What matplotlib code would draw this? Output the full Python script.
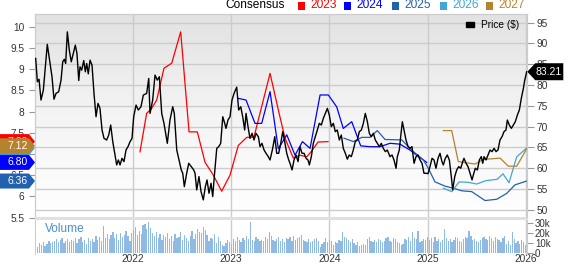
import numpy as np
import matplotlib.pyplot as plt
import matplotlib.transforms as mtransforms
from matplotlib.colors import LinearSegmentedColormap
from matplotlib.patches import Polygon, Rectangle, Patch
from matplotlib.text import Text

plt.rcParams['font.family'] = ['Liberation Sans', 'DejaVu Sans']

# weekly close price ($), x in decimal years
price_t = [2021.013, 2021.030, 2021.047, 2021.067, 2021.091, 2021.131, 2021.159, 2021.179, 2021.199, 2021.220,
           2021.247, 2021.271, 2021.288, 2021.304, 2021.318, 2021.335, 2021.355, 2021.375, 2021.396, 2021.416,
           2021.433, 2021.451, 2021.464, 2021.481, 2021.502, 2021.518, 2021.532, 2021.548, 2021.566, 2021.586,
           2021.606, 2021.627, 2021.647, 2021.667, 2021.688, 2021.708, 2021.735, 2021.756, 2021.776, 2021.797,
           2021.817, 2021.837, 2021.854, 2021.871, 2021.891, 2021.911, 2021.932, 2021.952, 2021.973, 2021.993,
           2022.010, 2022.034, 2022.057, 2022.084, 2022.108, 2022.142, 2022.163, 2022.176, 2022.203, 2022.227,
           2022.250, 2022.271, 2022.295, 2022.318, 2022.352, 2022.379, 2022.407, 2022.423, 2022.448, 2022.471,
           2022.494, 2022.509, 2022.525, 2022.549, 2022.570, 2022.596, 2022.621, 2022.634, 2022.651, 2022.674,
           2022.695, 2022.718, 2022.739, 2022.756, 2022.776, 2022.797, 2022.814, 2022.830, 2022.855, 2022.875,
           2022.895, 2022.916, 2022.936, 2022.949, 2022.969, 2022.990, 2023.010, 2023.031, 2023.058, 2023.078,
           2023.099, 2023.119, 2023.139, 2023.153, 2023.173, 2023.193, 2023.214, 2023.234, 2023.254, 2023.278,
           2023.295, 2023.315, 2023.336, 2023.356, 2023.379, 2023.397, 2023.424, 2023.445, 2023.465, 2023.485,
           2023.506, 2023.526, 2023.546, 2023.567, 2023.587, 2023.600, 2023.621, 2023.641, 2023.661, 2023.682,
           2023.702, 2023.722, 2023.743, 2023.763, 2023.783, 2023.797, 2023.817, 2023.837, 2023.858, 2023.878,
           2023.898, 2023.919, 2023.939, 2023.959, 2023.980, 2024.000, 2024.020, 2024.041, 2024.061, 2024.081,
           2024.102, 2024.122, 2024.142, 2024.163, 2024.183, 2024.203, 2024.224, 2024.244, 2024.264, 2024.285,
           2024.305, 2024.326, 2024.346, 2024.366, 2024.387, 2024.407, 2024.427, 2024.448, 2024.468, 2024.488,
           2024.509, 2024.529, 2024.549, 2024.570, 2024.590, 2024.617, 2024.638, 2024.658, 2024.679, 2024.692,
           2024.712, 2024.726, 2024.743, 2024.760, 2024.780, 2024.801, 2024.821, 2024.841, 2024.862, 2024.882,
           2024.902, 2024.923, 2024.943, 2024.963, 2024.984, 2025.004, 2025.024, 2025.045, 2025.065, 2025.085,
           2025.106, 2025.126, 2025.146, 2025.160, 2025.180, 2025.200, 2025.221, 2025.241, 2025.255, 2025.276,
           2025.296, 2025.316, 2025.337, 2025.357, 2025.370, 2025.391, 2025.411, 2025.431, 2025.452, 2025.465,
           2025.485, 2025.506, 2025.526, 2025.546, 2025.561, 2025.574, 2025.594, 2025.614, 2025.635, 2025.655,
           2025.676, 2025.696, 2025.716, 2025.736, 2025.757, 2025.777, 2025.797, 2025.811, 2025.831, 2025.852,
           2025.872, 2025.892, 2025.913, 2025.933, 2025.953, 2025.974, 2025.988, 2026.008]
price = [86.4, 80.8, 81.4, 76.4, 78.8, 89.8, 85.2, 82.0, 76.6, 78.0,
         78.4, 81.2, 85.6, 86.2, 85.2, 92.8, 88.4, 85.6, 87.6, 89.6,
         87.6, 81.1, 84.4, 83.6, 85.9, 83.2, 85.2, 82.7, 86.0, 84.8,
         78.0, 72.4, 75.6, 74.4, 69.2, 67.2, 66.8, 68.0, 70.4, 66.4,
         63.6, 60.8, 62.0, 60.8, 62.4, 61.6, 64.4, 65.2, 66.4, 67.2,
         72.4, 75.2, 74.0, 74.8, 77.6, 78.0, 81.6, 73.2, 76.4, 82.4,
         81.2, 82.0, 73.2, 70.8, 66.0, 71.6, 74.8, 73.2, 64.4, 62.0,
         59.6, 58.8, 55.6, 58.8, 61.2, 60.4, 59.6, 58.8, 54.8, 58.0,
         54.4, 52.4, 55.6, 57.2, 54.0, 56.4, 53.2, 58.0, 64.8, 65.2,
         66.0, 72.4, 70.8, 69.6, 71.6, 72.4, 76.4, 78.0, 79.5, 74.0,
         74.8, 72.4, 69.2, 73.2, 70.0, 67.2, 68.4, 66.8, 68.4, 67.6,
         65.2, 66.0, 64.4, 63.6, 62.8, 62.0, 64.8, 67.6, 63.6, 63.6,
         66.0, 68.8, 66.4, 63.6, 62.0, 61.2, 59.6, 62.0, 63.2, 61.6,
         65.2, 63.6, 63.6, 62.4, 62.0, 60.8, 62.8, 66.0, 67.6, 69.2,
         70.8, 70.4, 72.0, 73.2, 74.4, 72.8, 70.0, 70.8, 68.8, 69.2,
         66.8, 68.0, 64.8, 63.6, 62.2, 63.2, 62.8, 64.4, 66.4, 66.8,
         68.8, 69.2, 70.8, 73.2, 71.2, 68.4, 67.6, 68.4, 66.8, 66.0,
         65.2, 66.0, 64.8, 64.0, 64.4, 62.8, 63.2, 62.0, 60.0, 62.8,
         64.4, 67.6, 71.2, 69.2, 66.8, 65.2, 64.8, 65.2, 61.2, 62.8,
         63.2, 62.0, 61.2, 58.8, 58.8, 58.7, 60.4, 62.4, 62.0, 60.0,
         62.4, 63.6, 61.6, 60.8, 62.4, 63.2, 62.0, 58.0, 54.8, 58.0,
         59.6, 60.4, 60.0, 61.6, 62.4, 61.2, 60.4, 58.8, 57.2, 58.4,
         60.0, 59.6, 62.0, 62.8, 61.2, 62.8, 62.0, 63.2, 64.4, 64.0,
         64.8, 64.0, 64.4, 66.8, 67.6, 68.8, 69.2, 71.6, 70.4, 69.6,
         70.4, 71.2, 72.8, 74.0, 76.8, 79.2, 81.2, 83.21]

# consensus EPS estimates (left axis)
c2023_t = [2022.074, 2022.142, 2022.186, 2022.244, 2022.318, 2022.397, 2022.488, 2022.573, 2022.657, 2022.736,
           2022.820, 2022.905, 2022.990, 2023.074, 2023.160, 2023.234, 2023.397, 2023.481, 2023.549, 2023.634,
           2023.702, 2023.770, 2023.814, 2023.885, 2023.987]
c2023 = [7.05, 7.96, 8.05, 8.27, 9.02, 9.14, 9.88, 7.52, 7.52, 6.80,
         6.50, 6.12, 6.50, 7.20, 7.39, 7.40, 8.90, 8.04, 7.37, 6.90,
         6.97, 6.93, 7.05, 7.28, 7.29]
c2024_t = [2023.074, 2023.153, 2023.244, 2023.312, 2023.397, 2023.481, 2023.567, 2023.651, 2023.727, 2023.804,
           2023.906, 2023.990, 2024.075, 2024.142, 2024.228, 2024.319, 2024.414, 2024.516, 2024.617, 2024.719,
           2024.821, 2024.889, 2024.991]
c2024 = [8.31, 8.27, 7.72, 7.72, 8.47, 7.12, 7.45, 6.97, 7.29, 7.13,
         8.39, 8.39, 8.11, 7.60, 7.76, 7.19, 7.17, 7.17, 7.25, 7.23,
         7.09, 6.97, 6.80]
c2025_t = [2024.150, 2024.244, 2024.330, 2024.414, 2024.488, 2024.567, 2024.737, 2024.838, 2024.956, 2025.007,
           2025.075, 2025.177, 2025.261, 2025.347, 2025.449, 2025.584, 2025.703, 2025.805, 2025.889, 2026.008]
c2025 = [7.37, 7.29, 7.39, 7.39, 7.55, 7.34, 7.33, 7.09, 6.86, 6.66,
         6.34, 6.24, 6.19, 6.13, 6.11, 5.90, 5.93, 6.07, 6.27, 6.36]
c2026_t = [2025.160, 2025.245, 2025.320, 2025.411, 2025.500, 2025.594, 2025.706, 2025.767, 2025.828, 2025.906, 2026.008]
c2026 = [6.19, 6.11, 6.34, 6.33, 6.29, 6.37, 6.40, 6.53, 6.32, 6.93, 7.14]
c2027_t = [2025.160, 2025.245, 2025.312, 2025.482, 2025.567, 2025.737, 2025.821, 2025.906, 2026.008]
c2027 = [7.55, 7.55, 6.82, 6.76, 6.87, 6.90, 6.71, 6.71, 7.12]

# weekly volume (thousands), first week of 2021 onward
vol = [9, 6, 10, 8, 11, 7, 9, 12, 10, 11,
       12, 14, 11, 13, 15, 10, 12, 14, 11, 13,
       12, 15, 10, 14, 16, 11, 13, 9, 15, 12,
       14, 11, 17, 13, 16, 12, 27, 15, 19, 14,
       18, 21, 15, 19, 13, 20, 16, 18, 22, 17,
       12, 20, 23, 26, 18, 22, 19, 28, 29, 24,
       31, 25, 20, 17, 21, 15, 19, 13, 18, 16,
       20, 14, 17, 12, 19, 15, 16, 21, 13, 18,
       15, 12, 17, 22, 14, 19, 24, 21, 20, 26,
       23, 18, 12, 15, 14, 19, 10, 16, 12, 8,
       7, 10, 13, 11, 9, 14, 12, 16, 13, 11,
       15, 13, 17, 14, 31, 13, 12, 16, 14, 12,
       13, 12, 16, 14, 21, 17, 13, 12, 14, 16,
       12, 14, 11, 15, 14, 16, 12, 17, 13, 15,
       16, 18, 13, 12, 11, 14, 11, 12, 14, 15,
       12, 6, 9, 11, 15, 11, 13, 12, 8, 11,
       10, 13, 12, 21, 16, 15, 13, 11, 14, 10,
       8, 11, 7, 8, 9, 8, 14, 16, 12, 11,
       13, 11, 14, 13, 11, 12, 15, 16, 12, 11,
       15, 14, 11, 10, 8, 9, 14, 13, 16, 12,
       21, 15, 14, 22, 11, 12, 14, 13, 16, 13,
       15, 11, 16, 12, 14, 11, 13, 24, 15, 12,
       14, 11, 13, 16, 15, 12, 11, 14, 16, 15,
       22, 17, 13, 14, 12, 11, 13, 15, 16, 14,
       13, 17, 15, 12, 16, 14, 13, 11, 15, 17,
       9, 12, 8, 21, 14, 10, 12, 9, 13, 11, 8]
vol_t = 2021.013 + np.arange(len(vol)) / 52.18

years = [2022, 2023, 2024, 2025, 2026]
series = [("2023", "#ff0000", c2023_t, c2023), ("2024", "#0000ff", c2024_t, c2024),
          ("2025", "#2260b0", c2025_t, c2025), ("2026", "#42a6d8", c2026_t, c2026),
          ("2027", "#b5822e", c2027_t, c2027)]

fig = plt.figure(figsize=(5.68, 2.64), dpi=100)
W, H = 568, 264
ax = fig.add_axes([35 / W, 1 - 217.5 / H, 492.3 / W, 203.5 / H])
axv = fig.add_axes([35 / W, 1 - 254 / H, 492.3 / W, 34 / H])
ax2 = ax.twinx()

xlim = (2021.006, 2026.014)
grid_c = "#cccccc"
tick_c = "#333333"

# background gradient
cmap = LinearSegmentedColormap.from_list("bg", ["#e2e2e2", "#f4f4f4", "#ffffff"])
ax.imshow(np.linspace(0, 1, 256).reshape(-1, 1), cmap=cmap, extent=(0, 1, 0, 1),
          transform=ax.transAxes, aspect="auto", zorder=0)

ax.set_xlim(*xlim)
ax.set_ylim(5.5, 10.3)
ax2.set_ylim(48.17, 97.09)

# gridlines (drawn under everything)
for y in years:
    ax.axvline(y, color=grid_c, lw=1, zorder=0.5)
    axv.axvline(y, color=grid_c, lw=1, zorder=0.5)
ptrans = mtransforms.blended_transform_factory(ax.transAxes, ax2.transData)
for p in range(50, 100, 5):
    ax.plot([0, 1], [p, p], transform=ptrans, color=grid_c, lw=1, zorder=0.5)

for name, col, t, v in series:
    ax.plot(t, v, color=col, lw=0.9, zorder=2)

ax2.plot(price_t, price, color="black", lw=1.0, zorder=3)

# axes styling
lt = np.arange(5.5, 10.01, 0.5)
ax.set_yticks(lt)
ax.set_yticklabels([f"{v:g}" for v in lt])
ax.tick_params(axis="y", direction="out", length=4.5, width=0.8, color="#999999",
               labelsize=7.3, labelcolor=tick_c, pad=3)
ax.tick_params(axis="x", length=0, labelbottom=False)
ax2.set_yticks(range(50, 100, 5))
ax2.tick_params(axis="y", direction="out", length=5, width=0.8, color="#999999",
                labelsize=7.3, labelcolor=tick_c, pad=1.5)
for a in (ax, ax2):
    for s in a.spines.values():
        s.set_color(grid_c)
    a.spines["bottom"].set_visible(False)

axv.bar(vol_t, vol, width=0.013, color="#8fbae3", zorder=2)
axv.set_xlim(*xlim)
axv.set_ylim(-1, 33)
axv.yaxis.tick_right()
axv.set_yticks([0, 10, 20, 30])
axv.set_yticklabels(["0", "10k", "20k", "30k"])
axv.tick_params(axis="y", direction="out", length=4, width=0.8, color="#999999",
                labelsize=7, labelcolor=tick_c, pad=1.5)
axv.set_xticks(years)
axv.set_xticklabels([str(y) for y in years])
axv.tick_params(axis="x", length=0, labelsize=7.3, labelcolor=tick_c, pad=0)
for k, s in axv.spines.items():
    s.set_color(grid_c)
axv.spines["top"].set_visible(False)
axv.spines["bottom"].set_visible(False)
axv.text(0.02, 0.74, "Volume", transform=axv.transAxes, color="#4a8fcf",
         fontsize=8.6, va="center")

# separator band between panels
fig.add_artist(Rectangle((35 / W, 1 - 220 / H), 492.3 / W, 2.6 / H, transform=fig.transFigure,
                         fc="#e0e0e0", ec="none", zorder=1))

# price legend
ax2.legend(handles=[Patch(color="black", label="Price ($)")], loc="center right",
           bbox_to_anchor=(0.983, 0.946), frameon=False, fontsize=7.3,
           handlelength=0.75, handleheight=0.5, handletextpad=0.7, borderpad=0, borderaxespad=0)

# top consensus legend
fig.text(225 / W, 1 - 5.5 / H, "Consensus", fontsize=8.6, color="black", va="center", ha="left")
leg_x = [298, 344, 392, 440, 486]
for (name, col, t, v), x0 in zip(series, leg_x):
    fig.add_artist(Rectangle((x0 / W, 1 - 9.5 / H), 7 / W, 7.5 / H, transform=fig.transFigure,
                             fc=col, ec="none"))
    fig.text((x0 + 12) / W, 1 - 5.5 / H, name, fontsize=8.6, color=col, va="center", ha="left")

tag_z = [5]


def tag(a_trans, xfrac, yval, dy, verts, tx, text, col):
    tr = mtransforms.Affine2D().translate(0, dy) + mtransforms.ScaledTranslation(xfrac, yval, a_trans)
    z = tag_z[0]
    fig.add_artist(Polygon(verts, closed=True, transform=tr, fc=col, ec="none", zorder=z))
    fig.add_artist(Text(tx, 0, text, transform=tr, color="white", fontsize=7.5,
                        ha="center", va="center", zorder=z + 0.5))
    tag_z[0] += 1


lverts = [(0, 0), (-6, 7.5), (-35, 7.5), (-35, -7.5), (-6, -7.5)]
ltrans = ax.get_yaxis_transform()
tag(ltrans, 0, c2023[-1], 0, lverts, -17, f"{c2023[-1]:.2f}", "#ff0000")
tag(ltrans, 0, c2026[-1], 0, lverts, -17, f"{c2026[-1]:.2f}", "#42a6d8")
tag(ltrans, 0, c2027[-1], 3, lverts, -17, f"{c2027[-1]:.2f}", "#b5822e")
tag(ltrans, 0, c2024[-1], 0, lverts, -17, f"{c2024[-1]:.2f}", "#0000ff")
tag(ltrans, 0, c2025[-1], 0, lverts, -17, f"{c2025[-1]:.2f}", "#2260b0")

rverts = [(0, 0), (8, 8.5), (36, 8.5), (36, -8.5), (8, -8.5)]
tag(ax2.get_yaxis_transform(), 1, price[-1], 0, rverts, 21, f"{price[-1]:.2f}", "black")

fig.savefig("out.png", dpi=100, facecolor="white")
